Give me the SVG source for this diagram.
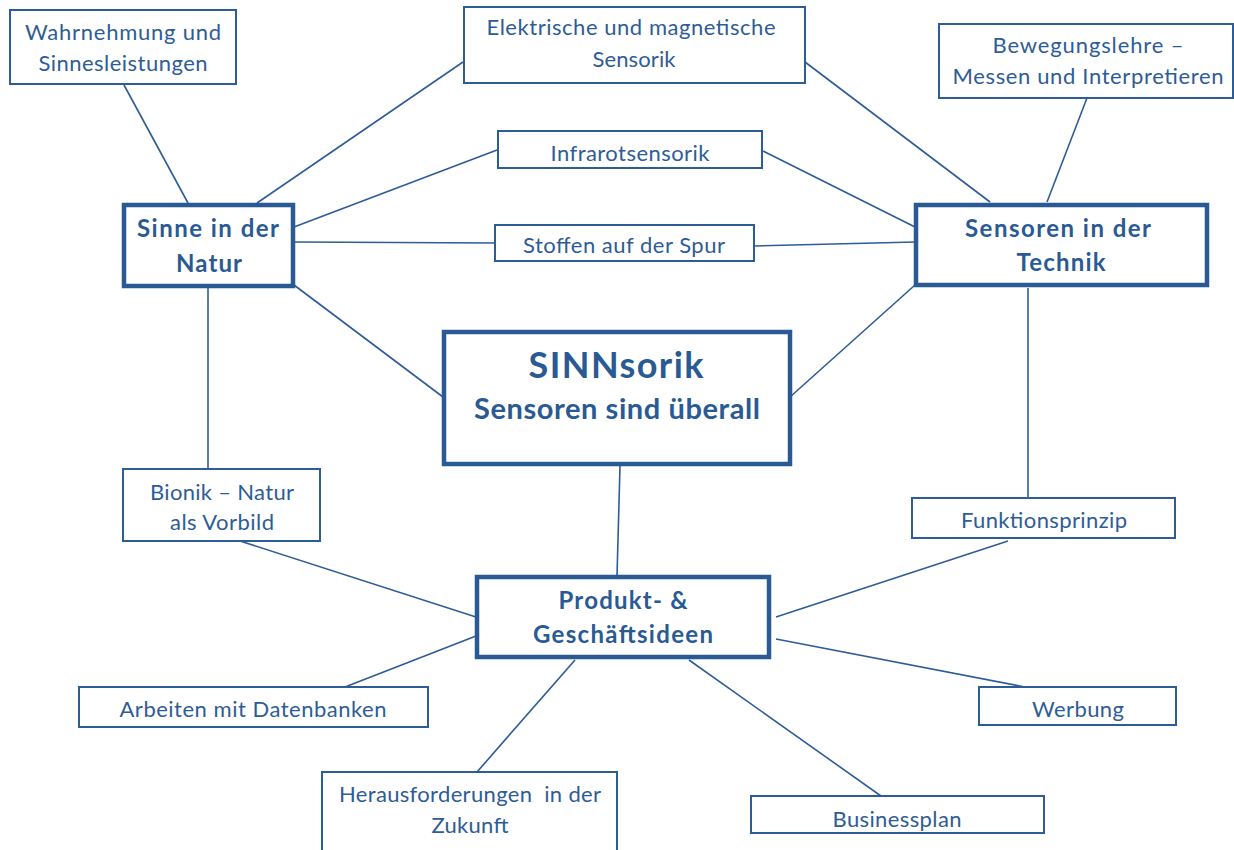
<svg xmlns="http://www.w3.org/2000/svg" width="1234" height="850" viewBox="0 0 1234 850">
<style>
.box{fill:#fff;stroke:#2E5C96;stroke-width:2}
.main{fill:#fff;stroke:#2A5A93;stroke-width:4.5}
.ln{stroke:#2E5C96;stroke-width:1.6;fill:none}
text{font-family:Lato,"Open Sans","Liberation Sans",sans-serif;fill:#2E5C96;text-anchor:middle}
.t{font-size:22px}
.b{font-size:24px;font-weight:bold;fill:#2A5A93}
</style>
<rect width="1234" height="850" fill="#fff"/>
<g id="connectors">
<line class="ln" x1="124" y1="85" x2="188" y2="203"/>
<line class="ln" x1="463" y1="62" x2="257" y2="203"/>
<line class="ln" x1="497" y1="150" x2="294" y2="227"/>
<line class="ln" x1="495" y1="243" x2="294" y2="242"/>
<line class="ln" x1="294" y1="285" x2="443" y2="397"/>
<line class="ln" x1="208" y1="288" x2="208" y2="469"/>
<line class="ln" x1="805" y1="62" x2="990" y2="202"/>
<line class="ln" x1="1087" y1="98" x2="1047" y2="202"/>
<line class="ln" x1="763" y1="151" x2="915" y2="227"/>
<line class="ln" x1="754" y1="246" x2="915" y2="242"/>
<line class="ln" x1="915" y1="285" x2="790" y2="397"/>
<line class="ln" x1="1028" y1="288" x2="1028" y2="498"/>
<line class="ln" x1="620" y1="466" x2="617" y2="576"/>
<line class="ln" x1="240" y1="541" x2="476" y2="617"/>
<line class="ln" x1="345" y1="687" x2="476" y2="636"/>
<line class="ln" x1="477" y1="772" x2="575" y2="660"/>
<line class="ln" x1="881" y1="796" x2="689" y2="660"/>
<line class="ln" x1="1025" y1="687" x2="776" y2="639"/>
<line class="ln" x1="1008" y1="541" x2="776" y2="617"/>
</g>
<g id="wahrnehmung">
<rect class="box" x="10" y="10" width="226" height="74"/>
<text class="t" x="123" y="40" textLength="196">Wahrnehmung und</text>
<text class="t" x="123" y="71" textLength="169">Sinnesleistungen</text>
</g>
<g id="elektrische">
<rect class="box" x="464" y="7" width="341" height="76"/>
<text class="t" x="631" y="35" textLength="289">Elektrische und magnetische</text>
<text class="t" x="634" y="67" textLength="83">Sensorik</text>
</g>
<g id="bewegungslehre">
<rect class="box" x="939" y="24" width="294" height="74"/>
<text class="t" x="1088" y="53" textLength="191">Bewegungslehre –</text>
<text class="t" x="1088" y="84" textLength="271">Messen und Interpretieren</text>
</g>
<g id="infrarot">
<rect class="box" x="498" y="131" width="264" height="37"/>
<text class="t" x="630" y="161" textLength="159">Infrarotsensorik</text>
</g>
<g id="stoffen">
<rect class="box" x="495" y="225" width="259" height="36"/>
<text class="t" x="624" y="253" textLength="202">Stoffen auf der Spur</text>
</g>
<g id="sinne">
<rect class="main" x="124" y="205" width="169" height="81"/>
<text class="b" x="208" y="237" textLength="142">Sinne in der</text>
<text class="b" x="209" y="272" textLength="66">Natur</text>
</g>
<g id="sensoren">
<rect class="main" x="916" y="205" width="291" height="80"/>
<text class="b" x="1058" y="237" textLength="186">Sensoren in der</text>
<text class="b" x="1061" y="271" textLength="89">Technik</text>
</g>
<g id="sinnsorik">
<rect class="main" x="444" y="332" width="346" height="132"/>
<text class="b" x="616" y="378" style="font-size:36px" textLength="175">SINNsorik</text>
<text class="b" x="617" y="419" style="font-size:29px" textLength="286">Sensoren sind überall</text>
</g>
<g id="produkt">
<rect class="main" x="477" y="577" width="292" height="80"/>
<text class="b" x="623" y="609" textLength="129">Produkt- &amp;</text>
<text class="b" x="623" y="643" textLength="180">Geschäftsideen</text>
</g>
<g id="bionik">
<rect class="box" x="123" y="469" width="197" height="72"/>
<text class="t" x="222" y="500" textLength="144">Bionik – Natur</text>
<text class="t" x="222" y="530" textLength="104">als Vorbild</text>
</g>
<g id="funktionsprinzip">
<rect class="box" x="912" y="498" width="263" height="40"/>
<text class="t" x="1044" y="528" textLength="166">Funktionsprinzip</text>
</g>
<g id="arbeiten">
<rect class="box" x="79" y="687" width="349" height="40"/>
<text class="t" x="253" y="717" textLength="267">Arbeiten mit Datenbanken</text>
</g>
<g id="werbung">
<rect class="box" x="979" y="687" width="197" height="38"/>
<text class="t" x="1078" y="717" textLength="92">Werbung</text>
</g>
<g id="herausforderungen">
<rect class="box" x="322" y="772" width="295" height="90"/>
<text class="t" x="470" y="802" textLength="262" xml:space="preserve">Herausforderungen  in der</text>
<text class="t" x="470" y="833" textLength="77">Zukunft</text>
</g>
<g id="businessplan">
<rect class="box" x="751" y="796" width="293" height="37"/>
<text class="t" x="897" y="827" textLength="129">Businessplan</text>
</g>
</svg>
